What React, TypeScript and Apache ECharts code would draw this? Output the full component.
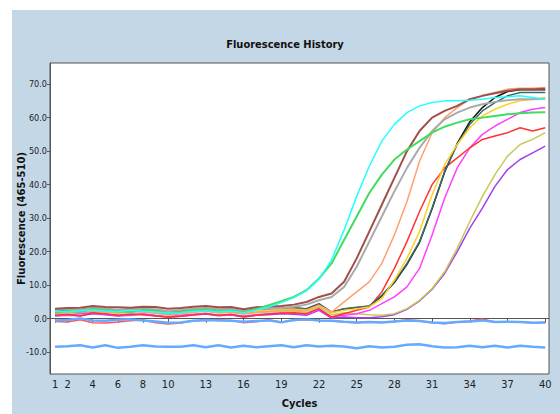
import React, { useEffect, useRef } from "react";
import * as echarts from "echarts";

const cycles = [1,2,3,4,5,6,7,8,9,10,11,12,13,14,15,16,17,18,19,20,21,22,23,24,25,26,27,28,29,30,31,32,33,34,35,36,37,38,39,40];
const xTicks = [1, 2, 4, 6, 8, 10, 13, 16, 19, 22, 25, 28, 31, 34, 37, 40];
const yTicks = [-10, 0, 10, 20, 30, 40, 50, 60, 70];

const cyan = [2.2,2.0,2.4,2.6,2.3,2.1,2.5,2.2,2.0,1.6,1.8,2.2,2.4,2.0,2.3,1.8,2.6,3.5,4.8,6.3,8.3,11.8,17.5,26.5,36.5,45.5,53,58,61.5,63.5,64.5,65,65,65.2,65.5,66,66.2,66.5,66,65.5];
const green = [1.8,2.3,2.0,2.8,2.5,2.2,2.0,2.6,2.3,1.5,2.0,2.5,2.7,2.2,2.4,1.9,2.8,4.0,5.2,6.5,8.5,12,16.5,23.5,30.5,37.5,43,47.5,50.5,53,55.5,57.3,58.5,59.5,60,60.5,61,61.3,61.5,61.6];
const brown = [3.0,3.2,3.3,3.8,3.5,3.4,3.3,3.6,3.5,3.0,3.2,3.6,3.8,3.4,3.5,2.8,3.4,3.6,3.8,4.2,5.0,6.5,7.5,11,18,26,34,42,50,56,60,62,63.5,65.5,66.5,67.3,68,68.5,68.5,68.6];
const gray = [2.5,2.8,2.6,3.2,3.0,2.7,2.9,3.0,2.8,2.2,2.6,3.0,3.2,2.8,3.0,2.3,2.9,3.0,3.2,3.6,4.2,5.5,6.5,9.5,15.5,23,30.5,38,45,51,56,59.5,61.5,63,64,64.7,65.2,65.5,65.5,65.6];
const orange = [1.5,1.8,2.2,2.5,2.0,1.8,2.3,2.0,1.6,1.2,1.5,2.0,2.4,1.8,2.0,1.5,2.0,2.2,2.5,2.6,2.4,4.0,2.0,5,8,11,16.5,25,35,47,55.5,60,63,65.5,66.5,67.5,68.5,68.8,68.8,69];
const red = [1.0,1.3,0.8,1.8,1.5,1.0,1.4,1.2,0.8,0.5,0.7,1.2,1.5,1.0,1.3,0.6,1.0,1.4,1.6,1.8,1.5,3.0,0.5,1.5,2.5,3.5,8,15,23,32,40,45,48,51,53.5,54.5,55.5,57,56,57];
const yellow = [2.0,2.2,2.5,3.0,2.6,2.4,2.7,2.5,2.2,1.8,2.0,2.5,2.8,2.3,2.5,2.0,2.4,2.6,2.8,2.9,2.6,4.0,1.8,2.5,3.0,3.5,6,11.5,18,26,37,46,52,57,60.5,62.5,64,65,65.5,66];
const teal = [2.6,2.9,2.7,3.2,2.9,2.6,2.8,3.0,2.6,2.0,2.4,2.8,3.0,2.6,2.8,2.1,2.7,2.9,3.1,3.3,3.0,4.5,2.0,3.0,3.4,3.8,7,11,16.5,23,33,44,52,58,62,64.5,66.5,67.5,67.5,67.5];
const black = [2.4,2.7,2.6,3.0,2.8,2.5,2.7,2.9,2.5,1.9,2.3,2.7,2.9,2.5,2.7,2.0,2.6,2.8,3.0,3.2,2.9,4.3,1.9,2.9,3.3,3.7,6.8,10.8,16.2,22.8,32.8,43.8,52.3,58.8,63,66,67.8,68.3,68.3,68.3];
const magenta = [1.2,1.0,1.5,1.8,1.3,1.0,1.2,1.5,1.0,0.6,1.0,1.3,1.6,1.0,1.2,0.8,1.2,1.5,1.8,1.6,1.3,2.8,0.5,1.0,1.5,2.5,4.5,6.5,9.5,15,25,36,45,51,55,57.5,59.5,61.5,62.5,63];
const olive = [1.5,1.8,1.6,2.2,1.9,1.6,1.9,2.1,1.7,1.2,1.5,1.9,2.2,1.7,1.9,1.4,1.8,2.0,2.3,2.2,1.9,3.5,1.2,1.8,1.5,1.2,1.0,1.5,3.0,5.5,9,14,21,29,36.5,43,48.5,52,53.5,55.5];
const purple = [0.8,1.0,0.9,1.5,1.2,0.8,1.0,1.3,0.9,0.4,0.7,1.1,1.4,0.9,1.1,0.5,1.0,1.2,1.5,1.3,1.0,2.5,0.2,0.5,0.3,0.3,0.6,1.2,2.8,5.3,8.8,13.5,20,27,33,39.5,44.5,47.5,49.5,51.5];
const red2 = [-0.8,-1.0,-0.3,-1.2,-1.3,-1.0,-0.6,-0.4,-1.2,-1.6,-1.3,-0.6,-0.5,-0.3,-0.5,-1.2,-0.9,-0.3,-1.0,-0.5,-0.3,-0.5,-0.6,-1.0,-1.2,-1.0,-1.1,-0.8,-0.3,-0.6,-1.2,-1.5,-1.0,-0.7,-0.1,-1.0,-0.9,-1.0,-1.2,-1.1];
const blueUpper = [-0.5,-0.4,0.1,-0.5,-0.6,-0.3,-0.2,-0.5,-0.8,-1.2,-1.1,-0.6,-0.4,-0.5,-0.6,-0.9,-0.7,-0.5,-1.1,-0.4,-0.2,-0.5,-0.6,-0.9,-1.1,-1.0,-1.1,-0.8,-0.5,-0.7,-1.1,-1.3,-1.0,-0.8,-0.5,-1.0,-0.9,-1.0,-1.2,-1.1];
const blueLower = [-8.4,-8.2,-7.9,-8.6,-7.9,-8.7,-8.4,-7.9,-8.3,-8.4,-8.4,-7.9,-8.5,-7.9,-8.6,-8.1,-8.5,-8.2,-7.9,-8.5,-7.9,-8.3,-8.1,-8.3,-8.8,-8.2,-8.6,-8.4,-7.8,-7.6,-8.2,-8.6,-8.5,-8.1,-8.5,-8.1,-8.6,-8.1,-8.4,-8.6];

const seriesDefs: { name: string; values: number[]; color: string; width: number }[] = [
  { name: "NegA", values: blueLower, color: "#66aaff", width: 2.5 },
  { name: "Red2", values: red2, color: "#ff5555", width: 1.5 },
  { name: "NegB", values: blueUpper, color: "#66aaff", width: 2.5 },
  { name: "Purple", values: purple, color: "#a040ee", width: 1.5 },
  { name: "Olive", values: olive, color: "#c8c855", width: 1.5 },
  { name: "Magenta", values: magenta, color: "#ff40ff", width: 1.5 },
  { name: "Red", values: red, color: "#ff3333", width: 1.5 },
  { name: "Black", values: black, color: "#111111", width: 1.5 },
  { name: "Teal", values: teal, color: "#3a6b6b", width: 1.5 },
  { name: "Yellow", values: yellow, color: "#ffd020", width: 1.5 },
  { name: "Orange", values: orange, color: "#ffa070", width: 1.5 },
  { name: "Gray", values: gray, color: "#aaaaaa", width: 2 },
  { name: "Brown", values: brown, color: "#a0504a", width: 2 },
  { name: "Green", values: green, color: "#40dd60", width: 2 },
  { name: "Cyan", values: cyan, color: "#22ffff", width: 1.5 },
];

const narrow = "'Liberation Sans Narrow', 'DejaVu Sans Condensed', Arial, sans-serif";

export default function App() {
  const ref = useRef<HTMLDivElement>(null);
  useEffect(() => {
    if (!ref.current) return;
    const chart = echarts.init(ref.current, undefined, { renderer: "svg" });
    chart.setOption({
      animation: false,
      backgroundColor: "#ffffff",
      graphic: [
        { type: "rect", z: -10, shape: { x: 12, y: 10, width: 560, height: 420 }, style: { fill: "#c4d7e7" } },
        {
          type: "text",
          x: 285,
          y: 44,
          style: {
            text: "Fluorescence History",
            fill: "#111",
            font: "bold 11px " + narrow,
            align: "center",
            verticalAlign: "middle",
          },
        },
      ],
      grid: {
        left: 50,
        top: 63,
        right: 11,
        bottom: 39,
        show: true,
        backgroundColor: "#ffffff",
        borderColor: "#555",
        borderWidth: 1,
      },
      xAxis: {
        type: "value",
        min: 0.6,
        max: 40.3,
        name: "Cycles",
        nameLocation: "middle",
        nameGap: 24,
        nameTextStyle: { fontFamily: narrow, fontWeight: "bold", fontSize: 11, color: "#111" },
        axisLine: { lineStyle: { color: "#555" } },
        axisTick: { show: true, length: 4, customValues: xTicks, lineStyle: { color: "#555" } },
        axisLabel: {
          customValues: xTicks,
          fontFamily: narrow,
          fontSize: 11,
          color: "#222",
          margin: 5,
        },
        splitLine: { show: false },
      },
      yAxis: {
        type: "value",
        min: -16.5,
        max: 76.3,
        name: "Fluorescence (465-510)",
        nameLocation: "middle",
        nameGap: 24,
        nameMoveOverlap: false,
        nameTextStyle: { fontFamily: "'DejaVu Sans', sans-serif", fontWeight: "bold", fontSize: 10, color: "#111" },
        axisLine: { show: true, lineStyle: { color: "#555" } },
        axisTick: { show: true, length: 3, customValues: yTicks, lineStyle: { color: "#555" } },
        axisLabel: {
          customValues: yTicks,
          fontFamily: narrow,
          fontSize: 9,
          color: "#222",
          margin: 3,
          formatter: (v: number) => v.toFixed(1),
        },
        splitLine: { show: false },
      },
      series: seriesDefs.map((s) => ({
        type: "line",
        name: s.name,
        data: cycles.map((c, i) => [c, s.values[i]]),
        showSymbol: false,
        symbol: "none",
        lineStyle: { color: s.color, width: s.width },
        itemStyle: { color: s.color },
      })),
    });
    return () => chart.dispose();
  }, []);
  return <div ref={ref} style={{ position: "fixed", left: 0, top: 0, width: 560, height: 414 }} />;
}
